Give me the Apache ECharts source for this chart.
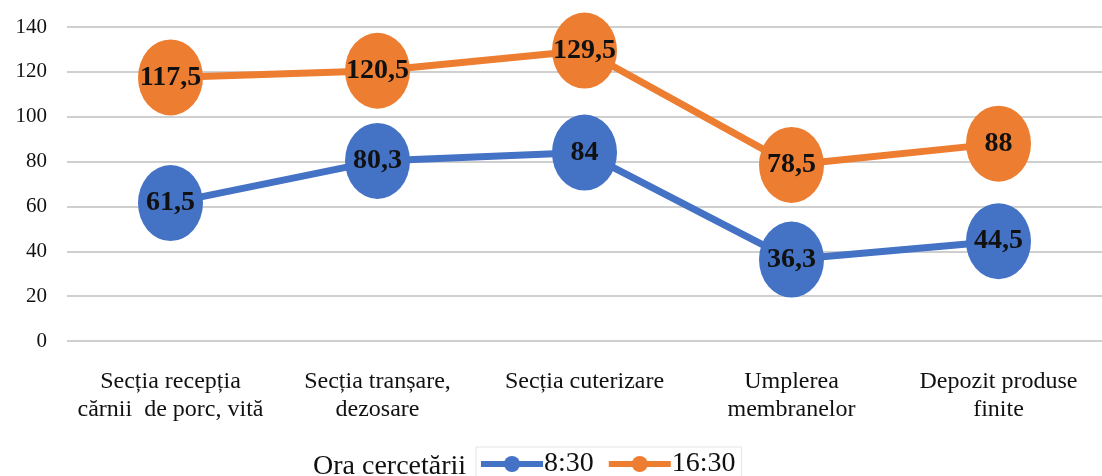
<!DOCTYPE html>
<html>
<head>
<meta charset="utf-8">
<script src="https://cdn.jsdelivr.net/npm/echarts@6/dist/echarts.min.js"></script>
<style>
  html, body { margin: 0; padding: 0; background: #fff; }
  #chart { width: 1102px; height: 476px; }
</style>
</head>
<body>
<div id="chart"></div>
<script>
var categories = [
  'Secția recepția\ncărnii  de porc, vită',
  'Secția tranșare,\ndezosare',
  'Secția cuterizare',
  'Umplerea\nmembranelor',
  'Depozit produse\nfinite'
];
var seriesNames = ['8:30', '16:30'];
var morning = [61.5, 80.3, 84, 36.3, 44.5];
var evening = [117.5, 120.5, 129.5, 78.5, 88];
var legendTitle = 'Ora cercetării';

var serif = '"Liberation Serif", "DejaVu Serif", serif';

function makeSeries(name, data, color) {
  return {
    name: name,
    type: 'line',
    data: data,
    symbol: 'circle',
    symbolSize: [65, 76],
    lineStyle: { width: 7, color: color },
    itemStyle: { color: color },
    label: {
      show: true,
      position: 'inside',
      fontFamily: serif,
      fontWeight: 'bold',
      fontSize: 28,
      color: '#111',
      formatter: function (p) {
        return String(p.value).replace('.', ',');
      }
    },
    emphasis: { disabled: true }
  };
}

var myChart = echarts.init(document.getElementById('chart'));
myChart.setOption({
  backgroundColor: '#fff',
  animation: false,
  grid: { left: 67, right: 0, top: 27, bottom: 135 },
  legend: {
    bottom: -5,
    left: 476,
    itemWidth: 62,
    itemHeight: 20,
    itemGap: 12,
    borderColor: '#e4e4e4',
    borderWidth: 1,
    padding: [3, 6, 3, 2],
    lineStyle: { width: 6 },
    textStyle: { fontFamily: serif, fontSize: 28, color: '#111', padding: [0, 0, 0, -4] },
    data: seriesNames
  },
  graphic: [{
    type: 'text',
    left: 313,
    bottom: -5,
    style: { text: legendTitle, font: '28px ' + serif, fill: '#111' }
  }],
  xAxis: {
    type: 'category',
    data: categories,
    boundaryGap: true,
    axisLine: { show: false },
    axisTick: { show: false },
    axisLabel: {
      interval: 0,
      margin: 27,
      fontFamily: serif,
      fontSize: 24,
      lineHeight: 28,
      color: '#111'
    }
  },
  yAxis: {
    type: 'value',
    min: 0,
    max: 140,
    interval: 20,
    axisLine: { show: false },
    axisTick: { show: false },
    splitLine: { lineStyle: { color: '#cfcfcf', width: 2 } },
    axisLabel: {
      margin: 20,
      fontFamily: serif,
      fontSize: 21,
      color: '#111'
    }
  },
  series: [
    makeSeries(seriesNames[0], morning, '#4472C4'),
    makeSeries(seriesNames[1], evening, '#ED7D31')
  ]
});
</script>
</body>
</html>
